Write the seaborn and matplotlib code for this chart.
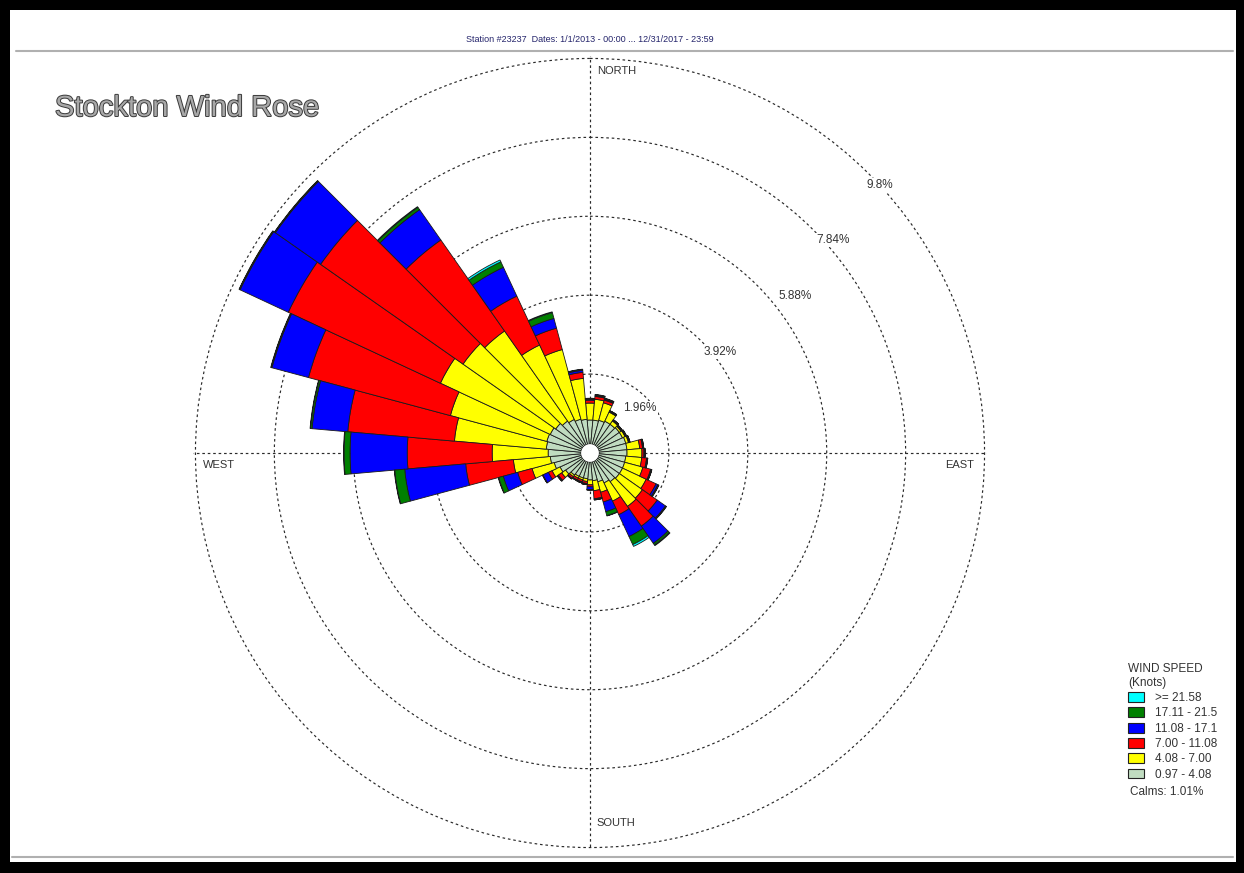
import numpy as np
import matplotlib
matplotlib.use("Agg")
import matplotlib.pyplot as plt
import matplotlib.patheffects as pe
from matplotlib.patches import Patch, Rectangle
from matplotlib.lines import Line2D
import seaborn as sns

# ---------------- data ----------------
directions = list(range(0, 360, 10))  # compass degrees, bin centres

# frequency (%) per speed class, per direction (0..350)
calm_band = [0.60, 0.60, 0.62, 0.65, 0.65, 0.67, 0.67, 0.70, 0.70, 0.70, 0.67, 0.67,
             0.67, 0.67, 0.65, 0.60, 0.52, 0.47, 0.45, 0.42, 0.42, 0.42, 0.45, 0.52,
             0.60, 0.70, 0.77, 0.82, 0.87, 0.89, 0.87, 0.82, 0.75, 0.70, 0.65, 0.62]
spd_4_7 = [0.42, 0.52, 0.45, 0.25, 0.10, 0.05, 0.07, 0.07, 0.32, 0.37, 0.40, 0.47,
           0.65, 0.70, 0.75, 0.50, 0.27, 0.25, 0.12, 0.07, 0.05, 0.05, 0.05, 0.12,
           0.22, 0.57, 0.92, 1.39, 2.29, 2.48, 3.01, 2.81, 2.73, 2.04, 1.79, 1.02]
spd_7_11 = [0.07, 0.07, 0.07, 0.02, 0.02, 0.02, 0.02, 0.02, 0.07, 0.05, 0.12, 0.20,
            0.27, 0.45, 0.60, 0.37, 0.25, 0.20, 0.05, 0.05, 0.05, 0.05, 0.05, 0.10,
            0.10, 0.37, 1.19, 2.11, 2.66, 3.65, 4.17, 4.32, 2.76, 1.34, 0.55, 0.15]
spd_11_17 = [0.02, 0.02, 0.02, 0.01, 0.01, 0.01, 0.01, 0.01, 0.02, 0.02, 0.02, 0.02,
             0.05, 0.25, 0.52, 0.60, 0.25, 0.02, 0.07, 0.02, 0.02, 0.01, 0.01, 0.02,
             0.15, 0.37, 1.52, 1.42, 0.89, 0.94, 1.32, 1.37, 0.92, 0.79, 0.25, 0.05]
spd_17_21 = [0.02, 0.02, 0.02, 0.01, 0.01, 0.01, 0.01, 0.01, 0.01, 0.01, 0.01, 0.01,
             0.02, 0.02, 0.05, 0.22, 0.10, 0.01, 0.01, 0.01, 0.01, 0.01, 0.01, 0.01,
             0.01, 0.12, 0.25, 0.15, 0.04, 0.02, 0.02, 0.02, 0.07, 0.15, 0.15, 0.02]
spd_21_up = [0.01, 0.01, 0.01, 0.00, 0.00, 0.00, 0.00, 0.00, 0.00, 0.00, 0.00, 0.00,
             0.01, 0.01, 0.02, 0.05, 0.01, 0.00, 0.00, 0.00, 0.00, 0.00, 0.00, 0.00,
             0.00, 0.01, 0.01, 0.01, 0.01, 0.01, 0.01, 0.01, 0.02, 0.05, 0.02, 0.01]

class_labels = ["0.97 - 4.08", "4.08 - 7.00", "7.00 - 11.08",
                "11.08 - 17.1", "17.11 - 21.5", ">= 21.58"]
class_colors = ["#C0DCC0", "#FFFF00", "#FF0000", "#0000FF", "#008000", "#00FFFF"]
ring_values = [1.96, 3.92, 5.88, 7.84, 9.8]
hole = 0.22
calms_text = "Calms: 1.01%"
title_text = "Station #23237  Dates: 1/1/2013 - 00:00 ... 12/31/2017 - 23:59"
chart_title = "Stockton Wind Rose"

# ---------------- style ----------------
sns.set_style("white")
plt.rcParams["font.family"] = ["Liberation Sans", "DejaVu Sans"]

W, H = 1244, 873
fig = plt.figure(figsize=(W / 100, H / 100), dpi=100, facecolor="black")

def fx(px):
    return px / W

def fy(py):
    return 1 - py / H

# white panel (drawn beneath everything)
fig.patches.append(Rectangle((fx(10), fy(862)), fx(1236) - fx(10), fy(10) - fy(862),
                             transform=fig.transFigure, facecolor="white",
                             edgecolor="none", zorder=-10))
# separator lines
fig.add_artist(Line2D([fx(16), fx(1233)], [fy(51), fy(51)], transform=fig.transFigure,
                      color="#b0b0b0", lw=1.5, zorder=-5))
fig.add_artist(Line2D([fx(12), fx(1233)], [fy(857), fy(857)], transform=fig.transFigure,
                      color="#b0b0b0", lw=1.5, zorder=-5))

# polar axes: centre (590,453) px, ring 9.8 at ~395 px
rmax = 9.85
rpx = rmax * 40.26
ax = fig.add_axes([fx(590 - rpx), fy(453 + rpx), 2 * rpx / W, 2 * rpx / H],
                  projection="polar")
ax.set_zorder(1)
ax.set_facecolor("none")
ax.patch.set_alpha(0)
ax.set_theta_zero_location("N")
ax.set_theta_direction(-1)
ax.set_ylim(0, rmax)
ax.spines["polar"].set_visible(False)
ax.set_rgrids(ring_values, labels=[""] * len(ring_values))
ax.set_thetagrids([0, 90, 180, 270], labels=[""] * 4)
ax.grid(True, color="#2a2a2a", linestyle=(0, (2.2, 2.4)), linewidth=0.85)
ax.set_axisbelow(True)

theta = np.deg2rad(directions)
width = np.deg2rad(10)
bottom = np.full(len(directions), hole)
for vals, col in zip([calm_band, spd_4_7, spd_7_11, spd_11_17, spd_17_21, spd_21_up],
                     class_colors):
    v = np.array(vals)
    ax.bar(theta, v, width=width, bottom=bottom, color=col, edgecolor="#1a1a1a",
           linewidth=0.6, align="center", zorder=3)
    bottom = bottom + v
# centre hole
ax.bar(0, hole, width=2 * np.pi, bottom=0, color="white", edgecolor="none", zorder=4)

# ring labels
ring_label_pos = [(640, 408), (720, 352), (795, 296), (833, 240), (880, 185)]
for val, (px, py) in zip(ring_values, ring_label_pos):
    fig.text(fx(px), fy(py), f"{val:g}%", ha="center", va="center",
             fontsize=8.5, color="#333333", zorder=5,
             bbox=dict(boxstyle="square,pad=0.1", facecolor="white", edgecolor="none"))

# compass labels
fig.text(fx(597), fy(71), "NORTH", ha="left", va="center", fontsize=8, color="#333333")
fig.text(fx(596), fy(823), "SOUTH", ha="left", va="center", fontsize=8, color="#333333")
fig.text(fx(203), fy(465), "WEST", ha="left", va="center", fontsize=8, color="#333333")
fig.text(fx(945), fy(465), "EAST", ha="left", va="center", fontsize=8, color="#333333")

# titles
fig.text(fx(590), fy(40), title_text, ha="center", va="center", fontsize=6.5,
         color="#24246b")
t = fig.text(fx(55), fy(108), chart_title, ha="left", va="center", fontsize=21,
             color="#a8a8a8")
t.set_path_effects([pe.withStroke(linewidth=1.4, foreground="#3a3a3a")])

# legend
handles = [Patch(facecolor=c, edgecolor="#222222", linewidth=0.8)
           for c in class_colors[::-1]]
leg = fig.legend(handles, class_labels[::-1], title="WIND SPEED\n(Knots)",
                 loc="upper left", bbox_to_anchor=(fx(1128), fy(663)),
                 frameon=False, fontsize=8.5, title_fontsize=8.5,
                 handlelength=1.35, handleheight=0.9, labelspacing=0.28,
                 handletextpad=0.9, borderpad=0, borderaxespad=0,
                 alignment="left")
for txt in leg.get_texts():
    txt.set_color("#333333")
leg.get_title().set_color("#333333")
fig.text(fx(1130), fy(792), calms_text, ha="left", va="center", fontsize=8.5,
         color="#333333")

fig.savefig("out.png", dpi=100, facecolor="black")
